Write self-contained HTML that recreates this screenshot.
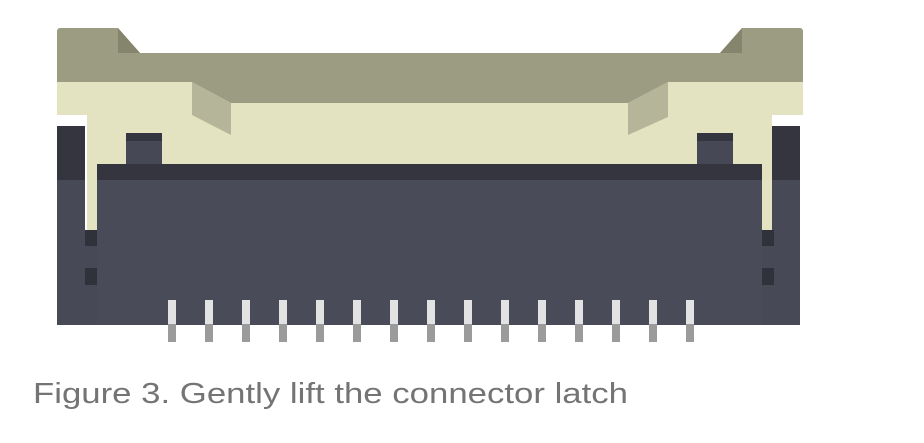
<!DOCTYPE html>
<html><head><meta charset="utf-8"><style>
html,body{margin:0;padding:0;background:#fff;width:924px;height:443px;overflow:hidden}
</style></head><body>
<svg width="924" height="443" xmlns="http://www.w3.org/2000/svg">
<path d="M57,82 L803,82 L803,115 L772,115 L772,230 L762,230 L762,164 L97,164 L97,230 L87,230 L87,115 L57,115 Z" fill="#e3e2c1"/>
<path d="M60,28 L118,28 L140,53 L720,53 L742,28 L800,28 Q803,28 803,32 L803,82 L668,82 L628,103 L231,103 L192,82 L57,82 L57,32 Q57,28 60,28Z" fill="#9c9c83"/>
<path d="M118,28 L140,53 L118,53Z" fill="#85856e"/>
<path d="M742,28 L720,53 L742,53Z" fill="#85856e"/>
<path d="M192,82 L231,103 L231,135 L192,115Z" fill="#b5b59a"/>
<path d="M668,82 L628,103 L628,135 L668,117Z" fill="#b5b59a"/>
<rect x="126" y="133" width="36" height="31" fill="#474856"/>
<rect x="126" y="133" width="36" height="8" fill="#34353f"/>
<rect x="697" y="133" width="36" height="31" fill="#474856"/>
<rect x="697" y="133" width="36" height="8" fill="#34353f"/>
<rect x="57" y="126" width="28" height="199" fill="#484957"/>
<rect x="57" y="126" width="28" height="54" fill="#34353f"/>
<rect x="772" y="126" width="28" height="199" fill="#484957"/>
<rect x="772" y="126" width="28" height="54" fill="#34353f"/>
<rect x="85" y="230" width="12" height="95" fill="#484957"/>
<rect x="85" y="230" width="12" height="16" fill="#30313b"/>
<rect x="85" y="268" width="12" height="17" fill="#30313b"/>
<rect x="762" y="230" width="12" height="95" fill="#484957"/>
<rect x="762" y="230" width="12" height="16" fill="#30313b"/>
<rect x="762" y="268" width="12" height="17" fill="#30313b"/>
<rect x="97" y="164" width="665" height="161" fill="#4a4b59"/>
<rect x="97" y="164" width="665" height="16" fill="#34353f"/>
<g>
<rect x="168" y="300" width="8" height="24" fill="#e2e2e2"/><rect x="168" y="324" width="8" height="18" fill="#9b9b9b"/>
<rect x="205" y="300" width="8" height="24" fill="#e2e2e2"/><rect x="205" y="324" width="8" height="18" fill="#9b9b9b"/>
<rect x="242" y="300" width="8" height="24" fill="#e2e2e2"/><rect x="242" y="324" width="8" height="18" fill="#9b9b9b"/>
<rect x="279" y="300" width="8" height="24" fill="#e2e2e2"/><rect x="279" y="324" width="8" height="18" fill="#9b9b9b"/>
<rect x="316" y="300" width="8" height="24" fill="#e2e2e2"/><rect x="316" y="324" width="8" height="18" fill="#9b9b9b"/>
<rect x="353" y="300" width="8" height="24" fill="#e2e2e2"/><rect x="353" y="324" width="8" height="18" fill="#9b9b9b"/>
<rect x="390" y="300" width="8" height="24" fill="#e2e2e2"/><rect x="390" y="324" width="8" height="18" fill="#9b9b9b"/>
<rect x="427" y="300" width="8" height="24" fill="#e2e2e2"/><rect x="427" y="324" width="8" height="18" fill="#9b9b9b"/>
<rect x="464" y="300" width="8" height="24" fill="#e2e2e2"/><rect x="464" y="324" width="8" height="18" fill="#9b9b9b"/>
<rect x="501" y="300" width="8" height="24" fill="#e2e2e2"/><rect x="501" y="324" width="8" height="18" fill="#9b9b9b"/>
<rect x="538" y="300" width="8" height="24" fill="#e2e2e2"/><rect x="538" y="324" width="8" height="18" fill="#9b9b9b"/>
<rect x="575" y="300" width="8" height="24" fill="#e2e2e2"/><rect x="575" y="324" width="8" height="18" fill="#9b9b9b"/>
<rect x="612" y="300" width="8" height="24" fill="#e2e2e2"/><rect x="612" y="324" width="8" height="18" fill="#9b9b9b"/>
<rect x="649" y="300" width="8" height="24" fill="#e2e2e2"/><rect x="649" y="324" width="8" height="18" fill="#9b9b9b"/>
<rect x="686" y="300" width="8" height="24" fill="#e2e2e2"/><rect x="686" y="324" width="8" height="18" fill="#9b9b9b"/>
</g>
<text x="33" y="403" font-family="Liberation Sans, sans-serif" font-size="29" fill="#747474" textLength="595" lengthAdjust="spacingAndGlyphs">Figure 3. Gently lift the connector latch</text>
</svg>
</body></html>
